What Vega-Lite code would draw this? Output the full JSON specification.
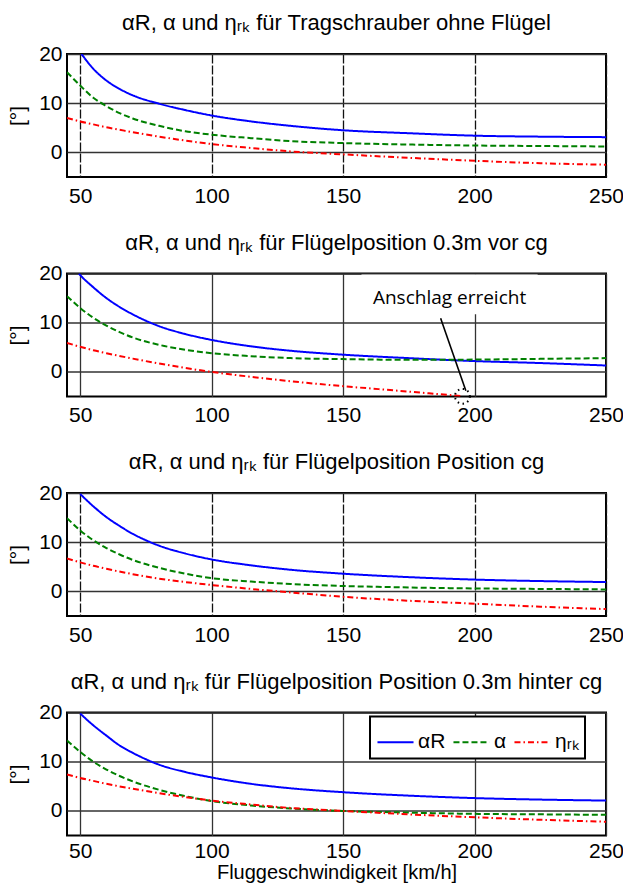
{
  "$schema": "https://vega.github.io/schema/vega-lite/v6.json",
  "padding": {"left": 6, "top": 11, "right": 4, "bottom": 0},
  "spacing": 23.5,
  "config": {
    "font": "Liberation Sans",
    "view": {"stroke": "black", "strokeWidth": 2},
    "axis": {"labelFont": "Liberation Sans", "labelFontSize": 21, "labelColor": "black", "titleFont": "Liberation Sans", "titleFontSize": 21, "titleFontWeight": "normal", "titleColor": "black", "ticks": false, "domain": false, "gridColor": "#333333", "gridWidth": 1.3, "gridOpacity": 1, "labelFlush": false},
    "title": {"font": "Liberation Sans", "fontSize": 22, "fontWeight": "normal", "color": "black", "anchor": "middle", "offset": 8},
    "legend": {"labelFont": "Liberation Sans", "labelFontSize": 21, "labelColor": "black"}
  },
  "datasets": {
    "d": [
      {"p":1,"s":"αR","v":50.5,"w":20},{"p":1,"s":"αR","v":55,"w":17.0},{"p":1,"s":"αR","v":60,"w":14.6},{"p":1,"s":"αR","v":65,"w":12.9},{"p":1,"s":"αR","v":70,"w":11.6},{"p":1,"s":"αR","v":80,"w":9.9},{"p":1,"s":"αR","v":90,"w":8.6},{"p":1,"s":"αR","v":100,"w":7.5},{"p":1,"s":"αR","v":115,"w":6.3},{"p":1,"s":"αR","v":130,"w":5.4},{"p":1,"s":"αR","v":150,"w":4.5},{"p":1,"s":"αR","v":175,"w":3.9},{"p":1,"s":"αR","v":200,"w":3.4},{"p":1,"s":"αR","v":225,"w":3.2},{"p":1,"s":"αR","v":250,"w":3.1},
      {"p":1,"s":"α","v":45,"w":16.3},{"p":1,"s":"α","v":50,"w":13.6},{"p":1,"s":"α","v":55,"w":11.1},{"p":1,"s":"α","v":60,"w":9.4},{"p":1,"s":"α","v":65,"w":8.0},{"p":1,"s":"α","v":70,"w":6.9},{"p":1,"s":"α","v":80,"w":5.4},{"p":1,"s":"α","v":90,"w":4.3},{"p":1,"s":"α","v":100,"w":3.6},{"p":1,"s":"α","v":115,"w":2.9},{"p":1,"s":"α","v":130,"w":2.3},{"p":1,"s":"α","v":150,"w":1.9},{"p":1,"s":"α","v":175,"w":1.6},{"p":1,"s":"α","v":200,"w":1.4},{"p":1,"s":"α","v":225,"w":1.3},{"p":1,"s":"α","v":250,"w":1.2},
      {"p":1,"s":"ηrk","v":45,"w":7.0},{"p":1,"s":"ηrk","v":50,"w":6.3},{"p":1,"s":"ηrk","v":55,"w":5.7},{"p":1,"s":"ηrk","v":60,"w":5.1},{"p":1,"s":"ηrk","v":65,"w":4.6},{"p":1,"s":"ηrk","v":70,"w":4.1},{"p":1,"s":"ηrk","v":80,"w":3.2},{"p":1,"s":"ηrk","v":90,"w":2.4},{"p":1,"s":"ηrk","v":100,"w":1.7},{"p":1,"s":"ηrk","v":115,"w":0.9},{"p":1,"s":"ηrk","v":130,"w":0.2},{"p":1,"s":"ηrk","v":150,"w":-0.4},{"p":1,"s":"ηrk","v":175,"w":-1.1},{"p":1,"s":"ηrk","v":200,"w":-1.7},{"p":1,"s":"ηrk","v":225,"w":-2.2},{"p":1,"s":"ηrk","v":250,"w":-2.5},

      {"p":2,"s":"αR","v":49.5,"w":20},{"p":2,"s":"αR","v":50,"w":19.7},{"p":2,"s":"αR","v":55,"w":17.2},{"p":2,"s":"αR","v":60,"w":15.0},{"p":2,"s":"αR","v":65,"w":13.2},{"p":2,"s":"αR","v":70,"w":11.7},{"p":2,"s":"αR","v":75,"w":10.4},{"p":2,"s":"αR","v":80,"w":9.3},{"p":2,"s":"αR","v":90,"w":7.7},{"p":2,"s":"αR","v":100,"w":6.5},{"p":2,"s":"αR","v":115,"w":5.2},{"p":2,"s":"αR","v":130,"w":4.3},{"p":2,"s":"αR","v":150,"w":3.5},{"p":2,"s":"αR","v":175,"w":2.8},{"p":2,"s":"αR","v":200,"w":2.2},{"p":2,"s":"αR","v":225,"w":1.8},{"p":2,"s":"αR","v":250,"w":1.3},
      {"p":2,"s":"α","v":45,"w":15.4},{"p":2,"s":"α","v":50,"w":13.0},{"p":2,"s":"α","v":55,"w":11.0},{"p":2,"s":"α","v":60,"w":9.4},{"p":2,"s":"α","v":65,"w":8.1},{"p":2,"s":"α","v":70,"w":7.0},{"p":2,"s":"α","v":80,"w":5.5},{"p":2,"s":"α","v":90,"w":4.5},{"p":2,"s":"α","v":100,"w":3.8},{"p":2,"s":"α","v":115,"w":3.2},{"p":2,"s":"α","v":130,"w":2.8},{"p":2,"s":"α","v":150,"w":2.6},{"p":2,"s":"α","v":175,"w":2.45},{"p":2,"s":"α","v":200,"w":2.5},{"p":2,"s":"α","v":225,"w":2.65},{"p":2,"s":"α","v":250,"w":2.8},
      {"p":2,"s":"ηrk","v":45,"w":5.9},{"p":2,"s":"ηrk","v":50,"w":5.1},{"p":2,"s":"ηrk","v":55,"w":4.4},{"p":2,"s":"ηrk","v":60,"w":3.8},{"p":2,"s":"ηrk","v":70,"w":2.7},{"p":2,"s":"ηrk","v":80,"w":1.7},{"p":2,"s":"ηrk","v":90,"w":0.8},{"p":2,"s":"ηrk","v":100,"w":0.0},{"p":2,"s":"ηrk","v":115,"w":-1.0},{"p":2,"s":"ηrk","v":130,"w":-1.9},{"p":2,"s":"ηrk","v":150,"w":-2.9},{"p":2,"s":"ηrk","v":175,"w":-4.0},{"p":2,"s":"ηrk","v":195,"w":-4.9},

      {"p":3,"s":"αR","v":50,"w":19.8},{"p":3,"s":"αR","v":55,"w":17.3},{"p":3,"s":"αR","v":60,"w":15.1},{"p":3,"s":"αR","v":65,"w":13.3},{"p":3,"s":"αR","v":70,"w":11.7},{"p":3,"s":"αR","v":75,"w":10.4},{"p":3,"s":"αR","v":80,"w":9.3},{"p":3,"s":"αR","v":90,"w":7.7},{"p":3,"s":"αR","v":100,"w":6.5},{"p":3,"s":"αR","v":115,"w":5.3},{"p":3,"s":"αR","v":130,"w":4.4},{"p":3,"s":"αR","v":150,"w":3.6},{"p":3,"s":"αR","v":175,"w":2.9},{"p":3,"s":"αR","v":200,"w":2.4},{"p":3,"s":"αR","v":225,"w":2.1},{"p":3,"s":"αR","v":250,"w":1.9},
      {"p":3,"s":"α","v":45,"w":14.9},{"p":3,"s":"α","v":50,"w":12.4},{"p":3,"s":"α","v":55,"w":10.4},{"p":3,"s":"α","v":60,"w":8.8},{"p":3,"s":"α","v":65,"w":7.5},{"p":3,"s":"α","v":70,"w":6.4},{"p":3,"s":"α","v":80,"w":4.8},{"p":3,"s":"α","v":90,"w":3.6},{"p":3,"s":"α","v":100,"w":2.7},{"p":3,"s":"α","v":115,"w":2.0},{"p":3,"s":"α","v":130,"w":1.5},{"p":3,"s":"α","v":150,"w":1.1},{"p":3,"s":"α","v":175,"w":0.8},{"p":3,"s":"α","v":200,"w":0.6},{"p":3,"s":"α","v":225,"w":0.5},{"p":3,"s":"α","v":250,"w":0.4},
      {"p":3,"s":"ηrk","v":45,"w":6.7},{"p":3,"s":"ηrk","v":50,"w":5.9},{"p":3,"s":"ηrk","v":55,"w":5.2},{"p":3,"s":"ηrk","v":60,"w":4.6},{"p":3,"s":"ηrk","v":70,"w":3.5},{"p":3,"s":"ηrk","v":80,"w":2.6},{"p":3,"s":"ηrk","v":90,"w":1.9},{"p":3,"s":"ηrk","v":100,"w":1.3},{"p":3,"s":"ηrk","v":115,"w":0.5},{"p":3,"s":"ηrk","v":130,"w":-0.2},{"p":3,"s":"ηrk","v":150,"w":-1.1},{"p":3,"s":"ηrk","v":175,"w":-1.9},{"p":3,"s":"ηrk","v":200,"w":-2.5},{"p":3,"s":"ηrk","v":225,"w":-3.1},{"p":3,"s":"ηrk","v":250,"w":-3.6},

      {"p":4,"s":"αR","v":50,"w":19.8},{"p":4,"s":"αR","v":55,"w":17.4},{"p":4,"s":"αR","v":60,"w":15.3},{"p":4,"s":"αR","v":65,"w":13.3},{"p":4,"s":"αR","v":70,"w":11.8},{"p":4,"s":"αR","v":75,"w":10.5},{"p":4,"s":"αR","v":80,"w":9.4},{"p":4,"s":"αR","v":90,"w":7.9},{"p":4,"s":"αR","v":100,"w":6.8},{"p":4,"s":"αR","v":115,"w":5.5},{"p":4,"s":"αR","v":130,"w":4.6},{"p":4,"s":"αR","v":150,"w":3.8},{"p":4,"s":"αR","v":175,"w":3.1},{"p":4,"s":"αR","v":200,"w":2.6},{"p":4,"s":"αR","v":225,"w":2.3},{"p":4,"s":"αR","v":250,"w":2.1},
      {"p":4,"s":"α","v":45,"w":14.3},{"p":4,"s":"α","v":50,"w":12.0},{"p":4,"s":"α","v":55,"w":10.0},{"p":4,"s":"α","v":60,"w":8.4},{"p":4,"s":"α","v":65,"w":7.1},{"p":4,"s":"α","v":70,"w":6.0},{"p":4,"s":"α","v":80,"w":4.3},{"p":4,"s":"α","v":90,"w":3.0},{"p":4,"s":"α","v":100,"w":2.0},{"p":4,"s":"α","v":115,"w":1.1},{"p":4,"s":"α","v":130,"w":0.5},{"p":4,"s":"α","v":150,"w":0.0},{"p":4,"s":"α","v":175,"w":-0.35},{"p":4,"s":"α","v":200,"w":-0.6},{"p":4,"s":"α","v":225,"w":-0.7},{"p":4,"s":"α","v":250,"w":-0.8},
      {"p":4,"s":"ηrk","v":45,"w":7.4},{"p":4,"s":"ηrk","v":50,"w":6.7},{"p":4,"s":"ηrk","v":55,"w":6.1},{"p":4,"s":"ηrk","v":60,"w":5.5},{"p":4,"s":"ηrk","v":70,"w":4.5},{"p":4,"s":"ηrk","v":80,"w":3.6},{"p":4,"s":"ηrk","v":90,"w":2.8},{"p":4,"s":"ηrk","v":100,"w":2.1},{"p":4,"s":"ηrk","v":115,"w":1.3},{"p":4,"s":"ηrk","v":130,"w":0.6},{"p":4,"s":"ηrk","v":150,"w":0.0},{"p":4,"s":"ηrk","v":175,"w":-0.7},{"p":4,"s":"ηrk","v":200,"w":-1.3},{"p":4,"s":"ηrk","v":225,"w":-1.8},{"p":4,"s":"ηrk","v":250,"w":-2.2}
    ],
    "ann": [
      {"v": 157, "v2": 224, "w": 19.8, "w2": 11.7, "label": "Anschlag erreicht", "tv": 190.5, "tw": 15.0, "av": 187.1, "aw": 10.9, "av2": 196.7, "aw2": -3.85, "cv": 195.4, "cw": -4.96}
    ]
  },
  "resolve": {"scale": {"color": "independent", "strokeDash": "independent"}, "legend": {"color": "independent", "strokeDash": "independent"}},
  "vconcat": [
    {
      "width": 539, "height": 123,
      "title": {"text": "αR, α und ηᵣₖ für Tragschrauber ohne Flügel"},
      "data": {"name": "d"},
      "transform": [{"filter": "datum.p == 1"}],
      "mark": {"type": "line", "strokeWidth": 2, "clip": true, "interpolate": "monotone"},
      "encoding": {
        "x": {"field": "v", "type": "quantitative", "scale": {"domain": [45, 250], "nice": false, "zero": false}, "axis": {"values": [50, 100, 150, 200, 250], "title": null, "gridDash": [9, 2], "gridColor": "#111111", "labelPadding": 8}},
        "y": {"field": "w", "type": "quantitative", "scale": {"domain": [-5, 20], "nice": false}, "axis": {"values": [0, 10, 20], "title": "[°]", "labelPadding": 5, "titlePadding": 10}},
        "color": {"field": "s", "type": "nominal", "scale": {"domain": ["αR", "α", "ηrk"], "range": ["#0000ff", "#008000", "#ff0000"]}, "legend": null},
        "strokeDash": {"field": "s", "type": "nominal", "scale": {"domain": ["αR", "α", "ηrk"], "range": [[1, 0], [6, 3], [6, 3, 1.5, 3]]}, "legend": null}
      }
    },
    {
      "width": 539, "height": 123,
      "title": {"text": "αR, α und ηᵣₖ für Flügelposition 0.3m vor cg"},
      "layer": [
        {
          "data": {"name": "ann"},
          "mark": {"type": "rect", "fill": "white"},
          "encoding": {
            "x": {"field": "v", "type": "quantitative"},
            "x2": {"field": "v2"},
            "y": {"field": "w", "type": "quantitative"},
            "y2": {"field": "w2"}
          }
        },
        {
          "data": {"name": "d"},
          "transform": [{"filter": "datum.p == 2"}],
          "mark": {"type": "line", "strokeWidth": 2, "clip": true, "interpolate": "monotone"},
          "encoding": {
            "x": {"field": "v", "type": "quantitative", "scale": {"domain": [45, 250], "nice": false, "zero": false}, "axis": {"values": [50, 100, 150, 200, 250], "title": null, "labelPadding": 8}},
            "y": {"field": "w", "type": "quantitative", "scale": {"domain": [-5, 20], "nice": false}, "axis": {"values": [0, 10, 20], "title": "[°]", "labelPadding": 5, "titlePadding": 10}},
            "color": {"field": "s", "type": "nominal", "scale": {"domain": ["αR", "α", "ηrk"], "range": ["#0000ff", "#008000", "#ff0000"]}, "legend": null},
            "strokeDash": {"field": "s", "type": "nominal", "scale": {"domain": ["αR", "α", "ηrk"], "range": [[1, 0], [6, 3], [6, 3, 1.5, 3]]}, "legend": null}
          }
        },
        {
          "data": {"name": "ann"},
          "mark": {"type": "text", "font": "Open Sans", "fontSize": 19, "color": "black"},
          "encoding": {
            "x": {"field": "tv", "type": "quantitative"},
            "y": {"field": "tw", "type": "quantitative"},
            "text": {"field": "label"}
          }
        },
        {
          "data": {"name": "ann"},
          "mark": {"type": "rule", "color": "black", "strokeWidth": 1.6},
          "encoding": {
            "x": {"field": "av", "type": "quantitative"},
            "y": {"field": "aw", "type": "quantitative"},
            "x2": {"field": "av2"},
            "y2": {"field": "aw2"}
          }
        },
        {
          "data": {"name": "ann"},
          "mark": {"type": "point", "shape": "circle", "filled": false, "stroke": "black", "strokeWidth": 2, "strokeDash": [1.5, 3.5], "size": 220, "opacity": 1},
          "encoding": {
            "x": {"field": "cv", "type": "quantitative"},
            "y": {"field": "cw", "type": "quantitative"}
          }
        }
      ]
    },
    {
      "width": 539, "height": 123,
      "title": {"text": "αR, α und ηᵣₖ für Flügelposition Position cg"},
      "data": {"name": "d"},
      "transform": [{"filter": "datum.p == 3"}],
      "mark": {"type": "line", "strokeWidth": 2, "clip": true, "interpolate": "monotone"},
      "encoding": {
        "x": {"field": "v", "type": "quantitative", "scale": {"domain": [45, 250], "nice": false, "zero": false}, "axis": {"values": [50, 100, 150, 200, 250], "title": null, "gridDash": [9, 2], "gridColor": "#111111", "labelPadding": 8}},
        "y": {"field": "w", "type": "quantitative", "scale": {"domain": [-5, 20], "nice": false}, "axis": {"values": [0, 10, 20], "title": "[°]", "labelPadding": 5, "titlePadding": 10}},
        "color": {"field": "s", "type": "nominal", "scale": {"domain": ["αR", "α", "ηrk"], "range": ["#0000ff", "#008000", "#ff0000"]}, "legend": null},
        "strokeDash": {"field": "s", "type": "nominal", "scale": {"domain": ["αR", "α", "ηrk"], "range": [[1, 0], [6, 3], [6, 3, 1.5, 3]]}, "legend": null}
      }
    },
    {
      "width": 539, "height": 123,
      "title": {"text": "αR, α und ηᵣₖ für Flügelposition Position 0.3m hinter cg"},
      "data": {"name": "d"},
      "transform": [{"filter": "datum.p == 4"}],
      "mark": {"type": "line", "strokeWidth": 2, "clip": true, "interpolate": "monotone"},
      "encoding": {
        "x": {"field": "v", "type": "quantitative", "scale": {"domain": [45, 250], "nice": false, "zero": false}, "axis": {"values": [50, 100, 150, 200, 250], "title": "Fluggeschwindigkeit [km/h]", "titleFontSize": 20, "labelPadding": 5, "titlePadding": 1}},
        "y": {"field": "w", "type": "quantitative", "scale": {"domain": [-5, 20], "nice": false}, "axis": {"values": [0, 10, 20], "title": "[°]", "labelPadding": 5, "titlePadding": 10}},
        "color": {"field": "s", "type": "nominal", "scale": {"domain": ["αR", "α", "ηrk"], "range": ["#0000ff", "#008000", "#ff0000"]},
          "legend": {"orient": "none", "legendX": 303, "legendY": 4, "direction": "horizontal", "title": null, "symbolType": "stroke", "symbolSize": 1300, "symbolStrokeWidth": 2, "strokeColor": "black", "fillColor": "white", "padding": 6, "columnPadding": 3, "labelOffset": 3, "labelExpr": "datum.label == 'ηrk' ? 'ηᵣₖ' : datum.label", "encode": {"legend": {"update": {"strokeWidth": {"value": 2}}}}}},
        "strokeDash": {"field": "s", "type": "nominal", "scale": {"domain": ["αR", "α", "ηrk"], "range": [[1, 0], [6, 3], [6, 3, 1.5, 3]]},
          "legend": {"orient": "none", "legendX": 303, "legendY": 4, "direction": "horizontal", "title": null, "symbolType": "stroke", "symbolSize": 1300, "symbolStrokeWidth": 2, "strokeColor": "black", "fillColor": "white", "padding": 6, "columnPadding": 3, "labelOffset": 3, "labelExpr": "datum.label == 'ηrk' ? 'ηᵣₖ' : datum.label", "encode": {"legend": {"update": {"strokeWidth": {"value": 2}}}}}}
      }
    }
  ]
}
